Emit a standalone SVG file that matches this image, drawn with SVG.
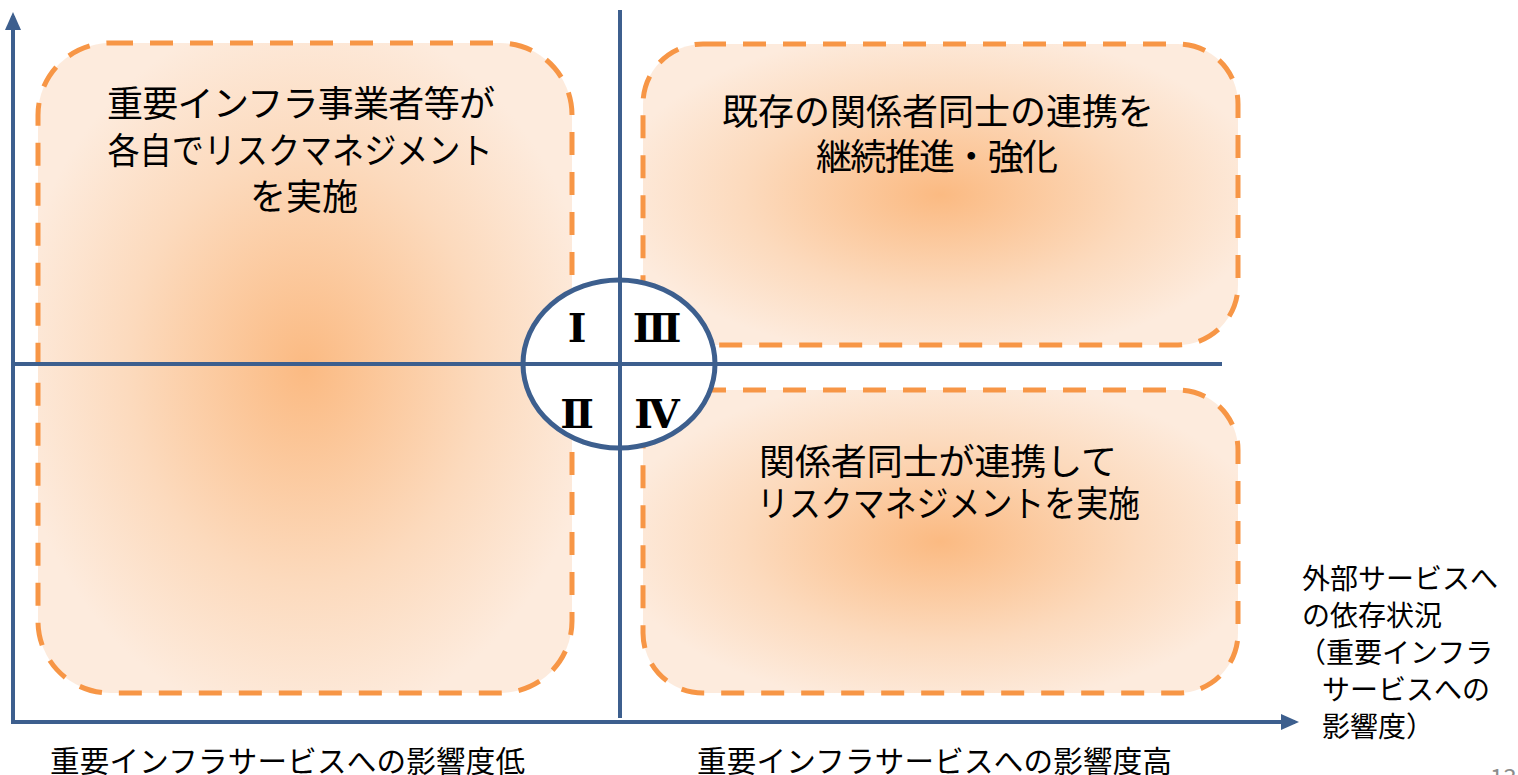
<svg xmlns="http://www.w3.org/2000/svg" width="1518" height="775" viewBox="0 0 1518 775">
<style>
.box{stroke:#F79646;stroke-width:5;stroke-dasharray:23 17;fill:url(#g)}
.axis{stroke:#3D5F8E;stroke-width:4;fill:none}
.t{font-family:"Noto Sans CJK JP","Noto Sans",sans-serif;fill:#000}
.big{font-size:36px}
.sm{font-size:28px}
.rn{font-family:"DejaVu Serif","Liberation Serif","Noto Sans CJK JP",serif;font-size:40px;font-weight:bold;fill:#000;text-anchor:middle}
</style>
<defs>
<radialGradient id="g" cx="0.5" cy="0.5" r="0.55">
<stop offset="0" stop-color="#FBBA82"/>
<stop offset="0.6" stop-color="#FCDABD"/>
<stop offset="1" stop-color="#FDEBDD"/>
</radialGradient>
<marker id="ah" markerWidth="18" markerHeight="16" refX="14" refY="8" orient="auto" markerUnits="userSpaceOnUse" viewBox="0 0 18 16">
<path d="M0,0 L18,8 L0,16 z" fill="#3D5F8E"/>
</marker>
</defs>
<rect width="1518" height="775" fill="#fff"/>
<g id="box1"><rect class="box" x="38" y="43" width="534" height="650" rx="72"/>
<text class="t big" text-anchor="middle" x="301" y="117" textLength="388">重要インフラ事業者等が</text>
<text class="t big" text-anchor="middle" x="300" y="164" textLength="385" lengthAdjust="spacingAndGlyphs">各自でリスクマネジメント</text>
<text class="t big" text-anchor="middle" x="304" y="210">を実施</text></g>
<g id="box3"><rect class="box" x="643" y="44" width="595" height="301" rx="60"/>
<text class="t big" text-anchor="middle" x="938" y="125">既存の関係者同士の連携を</text>
<text class="t big" text-anchor="middle" x="937" y="170" textLength="242">継続推進・強化</text></g>
<g id="box4"><rect class="box" x="643" y="390" width="595" height="303" rx="60"/>
<text class="t big" x="759" y="475" textLength="358">関係者同士が連携して</text>
<text class="t big" x="757" y="517" textLength="383" lengthAdjust="spacingAndGlyphs">リスクマネジメントを実施</text></g>
<g id="connectors">
<path class="axis" d="M13,724 L13,16" marker-end="url(#ah)"/>
<path class="axis" d="M11,722 L1295,722" marker-end="url(#ah)"/>
<path class="axis" d="M620,10 L620,718"/>
<path class="axis" d="M13,364 L1222,364"/>
</g>
<g id="center">
<ellipse cx="619" cy="364" rx="96" ry="84" fill="#fff" stroke="#3D5F8E" stroke-width="5"/>
<path class="axis" d="M523,364 L715,364 M620,280 L620,448"/>
<text class="rn" x="577" y="342">Ⅰ</text>
<text class="rn" x="657" y="342">Ⅲ</text>
<text class="rn" x="577" y="428">Ⅱ</text>
<text class="rn" x="657" y="428">Ⅳ</text>
</g>
<g id="labels">
<text class="t sm" x="1302" y="589">外部サービスへ</text>
<text class="t sm" x="1302" y="626">の依存状況</text>
<text class="t sm" x="1298" y="663">（重要インフラ</text>
<text class="t sm" x="1322" y="700">サービスへの</text>
<text class="t sm" x="1322" y="737">影響度）</text>
<text class="t" style="font-size:29.5px" x="50" y="772" textLength="475">重要インフラサービスへの影響度低</text>
<text class="t" style="font-size:29.5px" x="697" y="772" textLength="475">重要インフラサービスへの影響度高</text>
<text class="t" style="font-size:24px;fill:#8c8c8c" x="1490" y="786">13</text>
</g>
</svg>
